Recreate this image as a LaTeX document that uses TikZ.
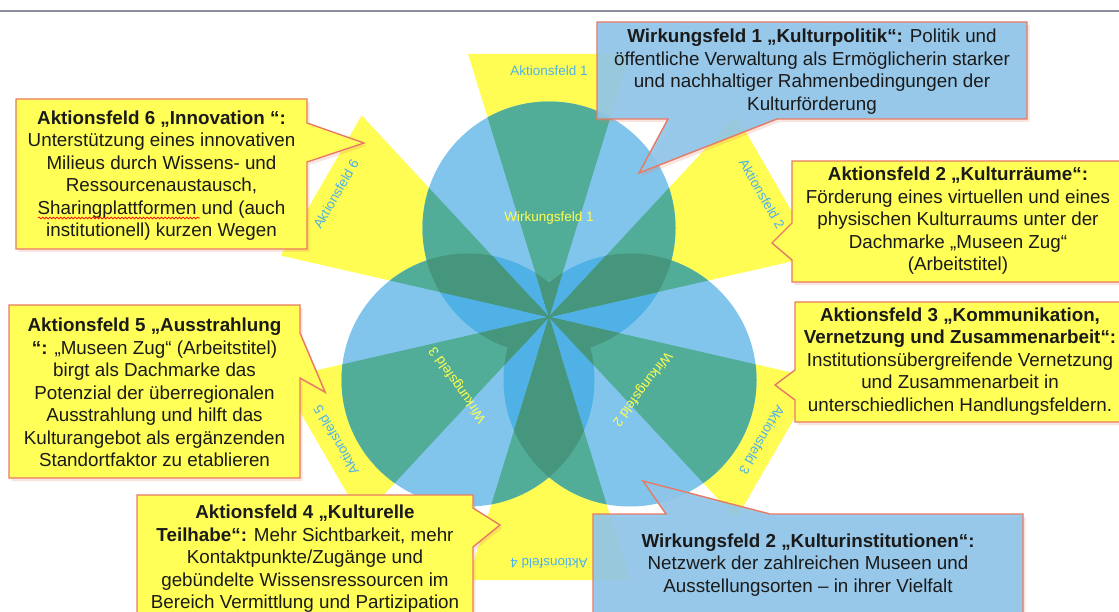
\documentclass[tikz,border=0pt]{standalone}
\usepackage{fontspec}
\setmainfont{Liberation Sans}
\usetikzlibrary{decorations.pathmorphing}
\definecolor{yel}{RGB}{255,253,84}
\definecolor{lblue}{RGB}{130,197,236}
\definecolor{dblue}{RGB}{79,177,229}
\definecolor{grn}{RGB}{82,173,152}
\definecolor{dgrn}{RGB}{69,150,124}
\definecolor{boxblue}{RGB}{141,198,234}
\definecolor{boxyel}{RGB}{255,255,87}
\definecolor{rimred}{RGB}{232,122,100}
\definecolor{lblcyan}{RGB}{77,178,232}
\definecolor{lblyel}{RGB}{255,255,80}
\definecolor{txtcol}{RGB}{26,26,26}
\definecolor{rulecol}{RGB}{138,143,155}
\newcommand\rosewedges{(0,0) -- (-107.1:275.2) -- (-72.9:275.2) -- cycle
 (0,0) -- (-47.1:275.2) -- (-12.9:275.2) -- cycle
 (0,0) -- (12.9:275.2) -- (47.1:275.2) -- cycle
 (0,0) -- (72.9:275.2) -- (107.1:275.2) -- cycle
 (0,0) -- (132.9:275.2) -- (167.1:275.2) -- cycle
 (0,0) -- (192.9:275.2) -- (227.1:275.2) -- cycle}
\newcommand\Cone{(0,-89) circle (126.5pt)}
\newcommand\Ctwo{(81,63) circle (126.5pt)}
\newcommand\Cthree{(-81,63) circle (126.5pt)}
\newcommand\pathWone{(597,22) -- (1027,22) -- (1027,119) -- (777,119) -- (639,173) -- (668,119) -- (597,119) -- cycle}
\newcommand\pathWtwo{(593,514) -- (666,514) -- (643,481) -- (770,514) -- (1023,514) -- (1023,640) -- (593,640) -- cycle}
\newcommand\pathAtwo{(792,161) -- (1130,161) -- (1130,282) -- (792,282) -- (792,260) -- (772,243) -- (792,223) -- cycle}
\newcommand\pathAthree{(795,302) -- (1130,302) -- (1130,422) -- (795,422) -- (795,400) -- (775,385) -- (795,370) -- cycle}
\newcommand\pathAfour{(137,495) -- (473,495) -- (473,508) -- (500,525) -- (473,547) -- (473,640) -- (137,640) -- cycle}
\newcommand\pathAfive{(9,305) -- (300,305) -- (300,333) -- (325,392) -- (300,378) -- (300,478) -- (9,478) -- cycle}
\newcommand\pathAsix{(16,99) -- (307,99) -- (307,123) -- (364,143) -- (307,162) -- (307,249) -- (16,249) -- cycle}
\tikzset{
 wlabel/.style={font=\fontsize{13.5}{16}\selectfont, text=lblcyan, inner sep=0pt},
 klabel/.style={font=\fontsize{13.5}{16}\selectfont, text=lblyel, inner sep=0pt},
 ctext/.style={font=\fontsize{18.8}{22.5}\selectfont, text=txtcol, align=center, inner sep=0pt},
 boxY/.style={fill=boxyel, draw=rimred, line width=1.4pt},
 boxB/.style={fill=boxblue, fill opacity=0.9, draw=rimred, line width=1.4pt},
 boxshadow/.style={fill=rimred, opacity=0.2, xshift=2.5pt, yshift=-3pt},
}
\begin{document}
\begin{tikzpicture}[x=1pt,y=-1pt]
\useasboundingbox (0,0) rectangle (1119,612);
\clip (0,0) rectangle (1119,612);
\fill[white] (0,0) rectangle (1119,612);
\draw[rulecol, line width=2pt] (0,11) coordinate (r0) -- (1119,11) coordinate (r1);
% rosette
\begin{scope}[shift={(549,317)}]
 \fill[yel] \rosewedges;
 \fill[lblue] \Cone; \fill[lblue] \Ctwo; \fill[lblue] \Cthree;
 \begin{scope}\clip \Cone; \fill[dblue] \Ctwo; \fill[dblue] \Cthree; \end{scope}
 \begin{scope}\clip \Ctwo; \fill[dblue] \Cthree; \end{scope}
 \begin{scope}\clip \Cone; \fill[grn] \rosewedges; \end{scope}
 \begin{scope}\clip \Ctwo; \fill[grn] \rosewedges; \end{scope}
 \begin{scope}\clip \Cthree; \fill[grn] \rosewedges; \end{scope}
 \begin{scope}\clip \Cone; \clip \Ctwo; \fill[dgrn] \rosewedges; \end{scope}
 \begin{scope}\clip \Cone; \clip \Cthree; \fill[dgrn] \rosewedges; \end{scope}
 \begin{scope}\clip \Ctwo; \clip \Cthree; \fill[dgrn] \rosewedges; \end{scope}
 \node[wlabel] (af1) at (-90:246) {Aktionsfeld 1};
 \node[wlabel, rotate=-60] (af2) at (-30:246) {Aktionsfeld 2};
 \node[wlabel, rotate=-120] (af3) at (30:246) {Aktionsfeld 3};
 \node[wlabel, rotate=180] (af4) at (90:246) {Aktionsfeld 4};
 \node[wlabel, rotate=120] (af5) at (150:246) {Aktionsfeld 5};
 \node[wlabel, rotate=60] (af6) at (210:246) {Aktionsfeld 6};
 \node[klabel] (wf1) at (0,-99) {Wirkungsfeld 1};
 \node[klabel, rotate=-127] (wf2) at (93,72) {Wirkungsfeld 2};
 \node[klabel, rotate=125] (wf3) at (-91,68) {Wirkungsfeld 3};
\end{scope}
% callout shapes
\fill[boxshadow] \pathAsix;  \draw[boxY] \pathAsix;
\fill[boxshadow] \pathAfive; \draw[boxY] \pathAfive;
\fill[boxshadow] \pathAfour; \draw[boxY] \pathAfour;
\fill[boxshadow] \pathAtwo;  \draw[boxY] \pathAtwo;
\fill[boxshadow] \pathAthree; \draw[boxY] \pathAthree;
\fill[boxshadow] \pathWone;  \draw[boxB] \pathWone;
\fill[boxshadow] \pathWtwo;  \draw[boxB] \pathWtwo;
% callout texts
\node[ctext] (t6) at (161.5,175.5) {\textbf{Aktionsfeld 6 „Innovation “:}\\Unterstützung eines innovativen\\Milieus durch Wissens- und\\Ressourcenaustausch,\\Sharingplattformen und (auch\\institutionell) kurzen Wegen};
\node[ctext] (t5) at (154.5,392.5) {\textbf{Aktionsfeld 5 „Ausstrahlung}\\\textbf{“:} „Museen Zug“ (Arbeitstitel)\\birgt als Dachmarke das\\Potenzial der überregionalen\\Ausstrahlung und hilft das\\Kulturangebot als ergänzenden\\Standortfaktor zu etablieren};
\node[ctext] (t4) at (305,559) {\textbf{Aktionsfeld 4 „Kulturelle}\\\textbf{Teilhabe“:} Mehr Sichtbarkeit, mehr\\Kontaktpunkte/Zugänge und\\gebündelte Wissensressourcen im\\Bereich Vermittlung und Partizipation};
\node[ctext] (tw1) at (812,71.5) {\textbf{Wirkungsfeld 1 „Kulturpolitik“:} Politik und\\öffentliche Verwaltung als Ermöglicherin starker\\und nachhaltiger Rahmenbedingungen der\\Kulturförderung};
\node[ctext] (tw2) at (808,565) {\textbf{Wirkungsfeld 2 „Kulturinstitutionen“:}\\Netzwerk der zahlreichen Museen und\\Ausstellungsorten – in ihrer Vielfalt};
\node[ctext] (t2) at (958,221) {\textbf{Aktionsfeld 2 „Kulturräume“:}\\Förderung eines virtuellen und eines\\physischen Kulturraums unter der\\Dachmarke „Museen Zug“\\(Arbeitstitel)};
\node[ctext] (t3) at (960,361.5) {\textbf{Aktionsfeld 3 „Kommunikation,}\\\textbf{Vernetzung und Zusammenarbeit“:}\\Institutionsübergreifende Vernetzung\\und Zusammenarbeit in\\unterschiedlichen Handlungsfeldern.};
% spell-check squiggle
\draw[red, line width=0.7pt, decorate, decoration={snake, amplitude=0.9pt, segment length=3.6pt}] (38,218) coordinate (s0) -- (200,218) coordinate (s1);
\end{tikzpicture}
\end{document}
